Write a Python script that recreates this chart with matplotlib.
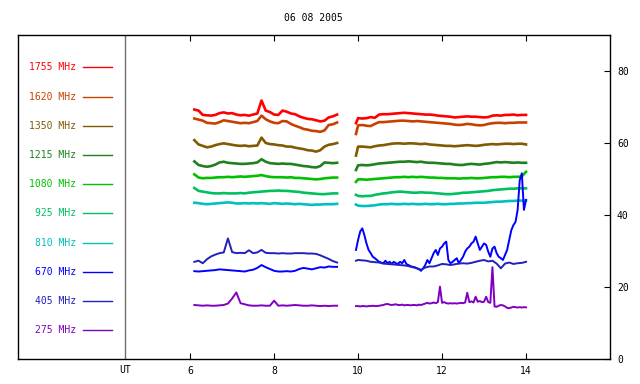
import numpy as np
import matplotlib
matplotlib.use("Agg")
import matplotlib.pyplot as plt

# time axes (UT hours)
t1 = np.round(np.arange(6.1, 9.51, 0.1), 2)                       # 35 pts
t2 = np.concatenate(([9.95], np.round(np.arange(10.0, 14.01, 0.1), 2)))  # 42 pts
t2f = np.round(np.arange(9.95, 14.001, 0.05), 2)                  # 82 pts

labels = ["1755 MHz", "1620 MHz", "1350 MHz", "1215 MHz", "1080 MHz",
          "925 MHz", "810 MHz", "670 MHz", "405 MHz", "275 MHz"]
colors = ["#ff0000", "#c84000", "#825a00", "#208020", "#00c000",
          "#00c060", "#00c0c0", "#0000ff", "#2020c0", "#8000c0"]

# ---- segment 1 (before the gap) ----
f1755_a = [69.3, 69.0, 67.8, 67.7, 67.6, 67.8, 68.3, 68.5, 68.2, 68.3,
           67.9, 67.7, 67.8, 67.6, 67.9, 68.2, 71.8, 69.0, 68.6, 67.9,
           67.8, 69.0, 68.7, 68.2, 68.0, 67.4, 67.0, 66.7, 66.6, 66.3,
           66.0, 66.2, 67.1, 67.4, 67.9]
f1620_a = [66.8, 66.5, 66.2, 65.6, 65.5, 65.4, 65.8, 66.3, 66.1, 65.9,
           65.7, 65.5, 65.6, 65.5, 65.8, 66.1, 67.6, 66.6, 66.0, 65.6,
           65.5, 66.1, 66.0, 65.3, 64.8, 64.4, 63.9, 63.7, 63.4, 63.3,
           63.1, 63.5, 65.0, 65.2, 65.7]
f1350_a = [60.8, 59.6, 59.2, 58.8, 59.0, 59.4, 59.7, 59.9, 59.7, 59.5,
           59.3, 59.2, 59.3, 59.1, 59.2, 59.3, 61.5, 60.0, 59.7, 59.6,
           59.4, 59.3, 59.0, 59.0, 58.7, 58.5, 58.3, 58.0, 57.9, 57.6,
           58.0, 59.0, 59.5, 59.7, 60.0]
f1215_a = [54.9, 53.9, 53.6, 53.4, 53.6, 54.0, 54.6, 54.8, 54.5, 54.4,
           54.3, 54.2, 54.2, 54.3, 54.4, 54.6, 55.5, 54.8, 54.4, 54.3,
           54.2, 54.3, 54.2, 54.2, 54.0, 53.8, 53.6, 53.5, 53.3, 53.2,
           53.6, 54.6, 54.5, 54.4, 54.5]
f1080_a = [51.3, 50.4, 50.2, 50.3, 50.3, 50.4, 50.5, 50.5, 50.6, 50.5,
           50.6, 50.7, 50.6, 50.7, 50.8, 50.9, 51.1, 50.8, 50.6, 50.5,
           50.5, 50.5, 50.4, 50.5, 50.3, 50.3, 50.2, 50.1, 50.0, 49.9,
           50.0, 50.2, 50.3, 50.4, 50.4]
f925_a = [47.5, 46.7, 46.5, 46.3, 46.1, 46.0, 46.0, 46.1, 46.0, 46.0,
          46.0, 46.1, 46.0, 46.2, 46.3, 46.4, 46.5, 46.6, 46.7, 46.7,
          46.8, 46.7, 46.7, 46.6, 46.5, 46.4, 46.2, 46.1, 46.0, 45.9,
          45.8, 45.8, 45.9, 46.0, 46.0]
f810_a = [43.4, 43.3, 43.1, 43.0, 43.1, 43.2, 43.3, 43.4, 43.5, 43.4,
          43.2, 43.2, 43.3, 43.2, 43.3, 43.2, 43.3, 43.2, 43.1, 43.3,
          43.2, 43.1, 43.2, 43.1, 43.0, 43.1, 43.0, 42.9, 42.8, 42.9,
          42.9, 43.0, 43.0, 43.0, 43.1]
f670_a = [24.4, 24.3, 24.4, 24.5, 24.6, 24.7, 24.9, 24.8, 24.7, 24.6,
          24.5, 24.4, 24.3, 24.6, 24.8, 25.3, 26.1, 25.5, 25.0, 24.5,
          24.3, 24.3, 24.4, 24.3, 24.5, 25.0, 25.3, 25.1, 24.9, 25.2,
          25.5, 25.4, 25.7, 25.6, 25.6]
f405_a = [27.0, 27.3, 26.6, 27.7, 28.5, 29.0, 29.4, 29.6, 33.5, 29.7,
          29.4, 29.5, 29.4, 30.2, 29.4, 29.6, 30.3, 29.5, 29.4, 29.4,
          29.3, 29.4, 29.3, 29.3, 29.4, 29.4, 29.4, 29.3, 29.3, 29.2,
          28.8, 28.3, 27.8, 27.2, 26.8]
f275_a = [15.0, 14.9, 14.8, 14.9, 14.8, 14.8, 14.9, 15.0, 15.4, 16.8,
          18.5, 15.5, 15.2, 14.9, 14.8, 14.8, 14.9, 14.8, 14.8, 16.2,
          14.8, 14.9, 14.8, 14.9, 15.0, 14.9, 14.8, 14.8, 14.9, 14.8,
          14.7, 14.8, 14.7, 14.8, 14.8]

# ---- segment 2 (after the gap) ----
f1755_b = [65.5, 66.9, 66.8, 66.9, 67.2, 67.0, 67.9, 68.0, 68.0, 68.1,
           68.2, 68.3, 68.4, 68.3, 68.2, 68.1, 68.0, 67.9, 67.9, 67.8,
           67.6, 67.5, 67.4, 67.3, 67.1, 67.2, 67.3, 67.4, 67.3, 67.3,
           67.2, 67.1, 67.2, 67.6, 67.7, 67.6, 67.8, 67.8, 67.9, 67.7,
           67.8, 67.8]
f1620_b = [62.5, 64.9, 65.0, 64.8, 64.7, 65.3, 65.8, 65.8, 65.9, 66.0,
           66.1, 66.2, 66.2, 66.1, 66.0, 66.1, 66.0, 65.9, 65.8, 65.7,
           65.6, 65.5, 65.4, 65.3, 65.1, 65.0, 65.1, 65.3, 65.2, 65.0,
           64.9, 65.0, 65.3, 65.5, 65.6, 65.6, 65.5, 65.6, 65.6, 65.7,
           65.7, 65.7]
f1350_b = [56.5, 59.0, 59.0, 58.9, 58.8, 59.1, 59.3, 59.4, 59.6, 59.8,
           59.9, 59.9, 59.8, 59.9, 59.9, 59.8, 59.7, 59.8, 59.6, 59.5,
           59.4, 59.3, 59.2, 59.2, 59.1, 59.2, 59.3, 59.4, 59.3, 59.2,
           59.3, 59.5, 59.6, 59.7, 59.6, 59.7, 59.8, 59.8, 59.7, 59.8,
           59.8, 59.6]
f1215_b = [52.5, 53.8, 53.9, 53.8, 53.9, 54.1, 54.3, 54.4, 54.5, 54.6,
           54.7, 54.8, 54.8, 54.9, 54.8, 54.7, 54.8, 54.6, 54.5, 54.5,
           54.4, 54.3, 54.2, 54.2, 54.0, 53.9, 53.9, 54.1, 54.2, 54.1,
           54.0, 54.2, 54.3, 54.5, 54.7, 54.6, 54.7, 54.6, 54.5, 54.6,
           54.5, 54.5]
f1080_b = [49.2, 49.9, 49.9, 49.8, 49.9, 50.0, 50.1, 50.2, 50.3, 50.4,
           50.5, 50.5, 50.6, 50.5, 50.6, 50.5, 50.6, 50.5, 50.4, 50.4,
           50.3, 50.3, 50.2, 50.2, 50.2, 50.1, 50.2, 50.2, 50.3, 50.2,
           50.2, 50.3, 50.4, 50.5, 50.5, 50.6, 50.6, 50.5, 50.6, 50.6,
           50.7, 52.0]
f925_b = [45.6, 45.3, 45.2, 45.3, 45.3, 45.6, 45.8, 46.0, 46.1, 46.3,
          46.4, 46.5, 46.4, 46.3, 46.2, 46.2, 46.3, 46.2, 46.2, 46.1,
          46.0, 45.9, 45.8, 45.8, 45.9, 46.0, 46.2, 46.2, 46.3, 46.4,
          46.5, 46.6, 46.7, 46.9, 47.0, 47.1, 47.2, 47.3, 47.3, 47.4,
          47.4, 47.4]
f810_b = [42.9, 42.6, 42.5, 42.5, 42.6, 42.7, 42.9, 43.0, 43.0, 43.1,
          43.0, 43.0, 43.1, 43.0, 43.1, 43.0, 43.0, 43.1, 43.0, 43.0,
          43.1, 43.0, 43.0, 43.1, 43.1, 43.2, 43.2, 43.3, 43.3, 43.4,
          43.4, 43.4, 43.5, 43.6, 43.7, 43.7, 43.8, 43.9, 43.9, 44.0,
          44.0, 44.0]
f405_b = [27.3, 27.5, 27.4, 27.3, 27.0, 26.9, 26.8, 26.5, 26.4, 26.3,
          26.2, 26.1, 26.0, 25.8, 25.5, 25.2, 24.8, 25.4, 25.7, 25.7,
          26.0, 26.4, 26.3, 26.1, 26.3, 26.5, 26.6, 26.5, 26.7, 27.0,
          27.3, 27.5, 27.1, 27.3, 26.5, 25.2, 26.5, 26.8, 26.4, 26.6,
          26.7, 27.0]
# finer sampling for the bursty channels
f670_b = [30.3, 33.1, 35.4, 36.3, 34.4, 32.1, 30.3, 29.4, 28.4, 28.0,
          27.5, 27.0, 26.8, 26.6, 27.3, 26.6, 27.0, 26.4, 27.0, 26.6,
          26.4, 27.0, 26.6, 27.5, 26.4, 26.1, 25.8, 25.6, 25.5, 25.2,
          24.9, 24.5, 25.2, 26.1, 27.5, 26.6, 28.0, 29.4, 30.3, 28.9,
          30.7, 31.2, 32.1, 32.6, 27.5, 26.6, 27.0, 27.5, 28.0, 26.6,
          27.5, 28.4, 29.8, 30.7, 31.2, 32.1, 32.6, 34.0, 32.1, 30.3,
          31.2, 32.1, 31.7, 29.8, 28.4, 30.7, 31.2, 29.4, 28.4, 28.0,
          27.5, 28.9, 30.3, 33.1, 35.8, 37.2, 38.1, 41.4, 49.7, 51.6,
          41.4, 44.2]
f275_b = [14.7, 14.7, 14.6, 14.7, 14.7, 14.6, 14.7, 14.7, 14.8, 14.7,
          14.7, 14.8, 14.9, 15.0, 15.2, 15.3, 15.1, 15.0, 15.1, 15.2,
          15.0, 15.0, 15.1, 14.9, 15.0, 15.0, 14.9, 15.0, 15.0, 14.9,
          15.1, 15.0, 15.2, 15.4, 15.6, 15.4, 15.5, 15.7, 15.5, 15.8,
          20.1, 15.6, 15.8, 15.5, 15.4, 15.5, 15.4, 15.5, 15.4, 15.5,
          15.6, 15.5, 15.7, 18.4, 15.8, 16.0, 15.7, 17.3, 15.9, 16.1,
          15.8, 15.9, 17.3, 15.8, 15.6, 25.5, 14.6, 14.5, 14.8, 15.0,
          14.9, 14.6, 14.2, 14.1, 14.3, 14.5, 14.4, 14.3, 14.4, 14.3,
          14.4, 14.35]

seg_a = [f1755_a, f1620_a, f1350_a, f1215_a, f1080_a, f925_a, f810_a, f670_a, f405_a, f275_a]
seg_b = [f1755_b, f1620_b, f1350_b, f1215_b, f1080_b, f925_b, f810_b, f670_b, f405_b, f275_b]

plt.rcParams['font.family'] = ['DejaVu Sans Mono']
fs = 7

fig = plt.figure(figsize=(6.4, 3.84), dpi=100)
ax = fig.add_axes([18/640, 25/384, 592/640, 324/384])

for i in range(10):
    lw = 1.9 if i < 7 else 1.4
    ax.plot(t1, seg_a[i], color=colors[i], lw=lw)
    tb = t2f if len(seg_b[i]) == len(t2f) else t2
    ax.plot(tb, seg_b[i], color=colors[i], lw=lw)

# left-hand legend
ly = np.linspace(81.0, 8.0, 10)
for i in range(10):
    ax.text(3.28, ly[i], labels[i], color=colors[i], ha='right', va='center', fontsize=fs)
    ax.plot([3.445, 4.136], [ly[i], ly[i]], color=colors[i], lw=1)

ax.axvline(4.45, color='#707070', lw=1)

ax.set_xlim(1.9, 16.0)
ax.set_ylim(0, 90)
ax.set_xticks([6, 8, 10, 12, 14])
ax.tick_params(axis='x', direction='in', top=True, bottom=True, length=4,
               labelsize=fs, pad=5)
ax.yaxis.tick_right()
ax.set_yticks([0, 20, 40, 60, 80])
ax.tick_params(axis='y', direction='in', right=True, left=False, length=4,
               labelsize=fs, pad=5)
for s in ax.spines.values():
    s.set_linewidth(1)

fig.text(125.3/640, 1 - 370/384, "UT", ha='center', va='center', fontsize=fs)
fig.text(313/640, 1 - 18/384, "06 08 2005", ha='center', va='center', fontsize=fs)

fig.savefig("out.png", dpi=100)
